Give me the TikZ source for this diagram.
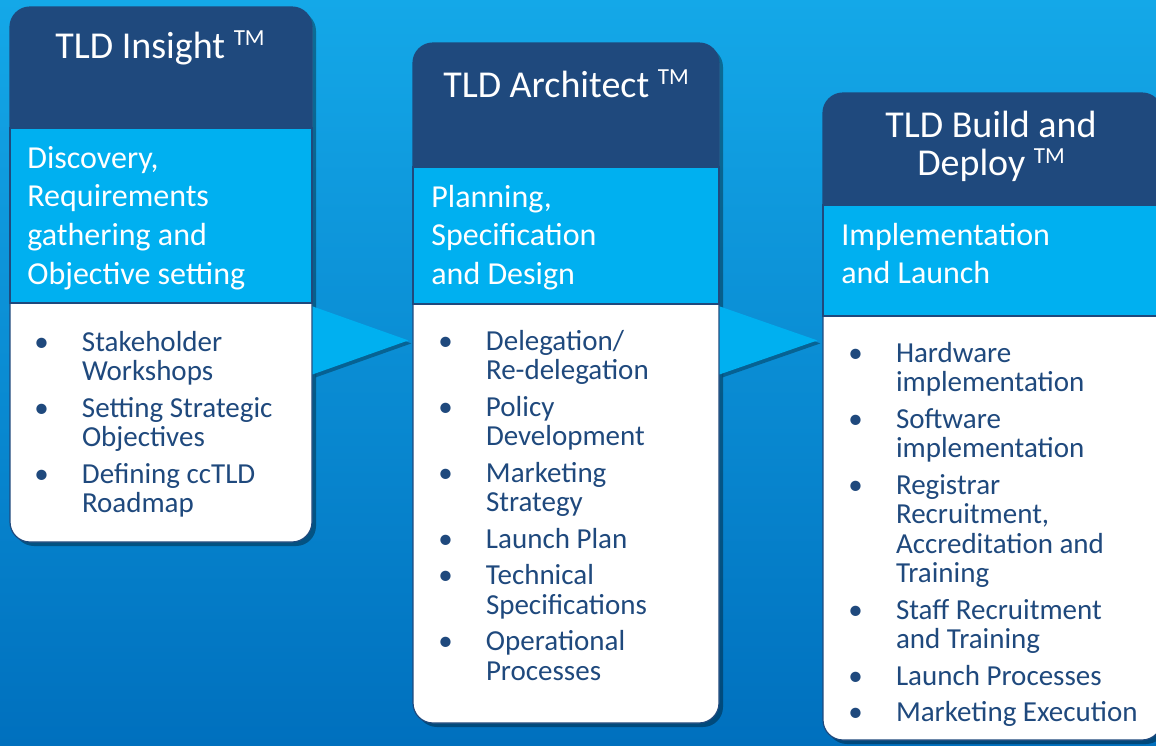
\documentclass[tikz,border=0pt]{standalone}
\usepackage{fontspec}
\setmainfont{Carlito}
\usetikzlibrary{calc,fit,shadows}

\definecolor{navy}{RGB}{31,73,125}
\definecolor{sky}{RGB}{0,176,240}
\definecolor{bgtop}{RGB}{20,168,232}
\definecolor{bgmid}{RGB}{0,146,216}
\definecolor{bgbot}{RGB}{0,112,190}

\newcommand{\tmark}{\raisebox{6.2pt}{\fontsize{11.5}{11.5}\selectfont TM}}

\tikzset{
  card/.style={fill=white, draw=navy, line width=0.6pt, rounded corners=10pt, inner sep=0pt,
    drop shadow={shadow xshift=2pt, shadow yshift=-2pt, opacity=0.35, fill=black}},
  head/.style={fill=navy, rounded corners=10pt, inner sep=0pt},
  band/.style={fill=sky, draw=navy, line width=0.6pt, inner sep=0pt},
  title/.style={text=white, font=\fontsize{19}{19}\selectfont, inner sep=0pt, anchor=base},
  phase/.style={text=white, font=\fontsize{16}{19.35}\selectfont, inner sep=0pt, anchor=base west},
  tasks/.style={text=navy, font=\fontsize{14.5}{14.75}\selectfont, inner sep=0pt, anchor=base west},
  pointer/.style={fill=sky, drop shadow={shadow xshift=1.5pt, shadow yshift=-1.5pt, opacity=0.3, fill=black}}
}

\begin{document}
\begin{tikzpicture}[x=0.5pt, y=-0.5pt]
    \useasboundingbox (0,0) rectangle (1156,745);
    \clip (0,0) rectangle (1156,745);
    \shade[top color=bgtop, middle color=bgmid, bottom color=bgbot] (0,0) rectangle (1156,745);

    % cards
    \node[card, fit={(10,7) (312,542)}] (insight) {};
    \node[head, fit={(10,7) (312,152)}] (insight-head) {};
    \node[band, fit={(10,128) (312,303)}] (insight-band) {};

    \node[card, fit={(413,43) (719,723)}] (architect) {};
    \node[head, fit={(413,43) (719,191)}] (architect-head) {};
    \node[band, fit={(413,167) (719,304)}] (architect-band) {};

    \node[card, fit={(823,93) (1162,740)}] (build) {};
    \node[head, fit={(823,93) (1162,229)}] (build-head) {};
    \node[band, fit={(823,205) (1162,316)}] (build-band) {};

    % arrows between the cards
    \fill[pointer] ($(insight.north east)+(0,300)$) -- ($(architect.north west)+(-4,298)$)
        -- ($(insight.north east)+(0,368)$) -- cycle;
    \fill[pointer] ($(architect.north east)+(0,264)$) -- ($(build.north west)+(-5,248)$)
        -- ($(architect.north east)+(0,332)$) -- cycle;

    % titles
    \node[title] (t1) at (160,58) {TLD Insight \tmark};
    \node[title] (t2) at (566,97) {TLD Architect \tmark};
    \node[title] (t3) at (991,137) {\begin{tabular}[t]{@{}c@{}}TLD Build and\\Deploy \tmark\end{tabular}};

    % phases
    \node[phase] (p1) at (27,168) {\begin{tabular}[t]{@{}l@{}}Discovery,\\Requirements\\gathering and\\Objective setting\end{tabular}};
    \node[phase] (p2) at (431,207) {\begin{tabular}[t]{@{}l@{}}Planning,\\Specification\\and Design\end{tabular}};
    \node[phase] (p3) at (841,245) {\begin{tabular}[t]{@{}l@{}}Implementation\\and Launch\end{tabular}};

    % task lists
    \node[tasks] (l1) at (34,351) {\begin{tabular}[t]{@{}p{23.8pt}@{}l@{}}
        \textbullet & Stakeholder\\ & Workshops\\[3.5pt]
        \textbullet & Setting Strategic\\ & Objectives\\[3.5pt]
        \textbullet & Defining ccTLD\\ & Roadmap
    \end{tabular}};
    \node[tasks] (l2) at (438,350) {\begin{tabular}[t]{@{}p{23.8pt}@{}l@{}}
        \textbullet & Delegation/\\ & Re-delegation\\[3.5pt]
        \textbullet & Policy\\ & Development\\[3.5pt]
        \textbullet & Marketing\\ & Strategy\\[3.5pt]
        \textbullet & Launch Plan\\[3.5pt]
        \textbullet & Technical\\ & Specifications\\[3.5pt]
        \textbullet & Operational\\ & Processes
    \end{tabular}};
    \node[tasks] (l3) at (848,362) {\begin{tabular}[t]{@{}p{23.8pt}@{}l@{}}
        \textbullet & Hardware\\ & implementation\\[3.5pt]
        \textbullet & Software\\ & implementation\\[3.5pt]
        \textbullet & Registrar\\ & Recruitment,\\ & Accreditation and\\ & Training\\[3.5pt]
        \textbullet & Staff Recruitment\\ & and Training\\[3.5pt]
        \textbullet & Launch Processes\\[3.5pt]
        \textbullet & Marketing Execution
    \end{tabular}};
\end{tikzpicture}
\end{document}
